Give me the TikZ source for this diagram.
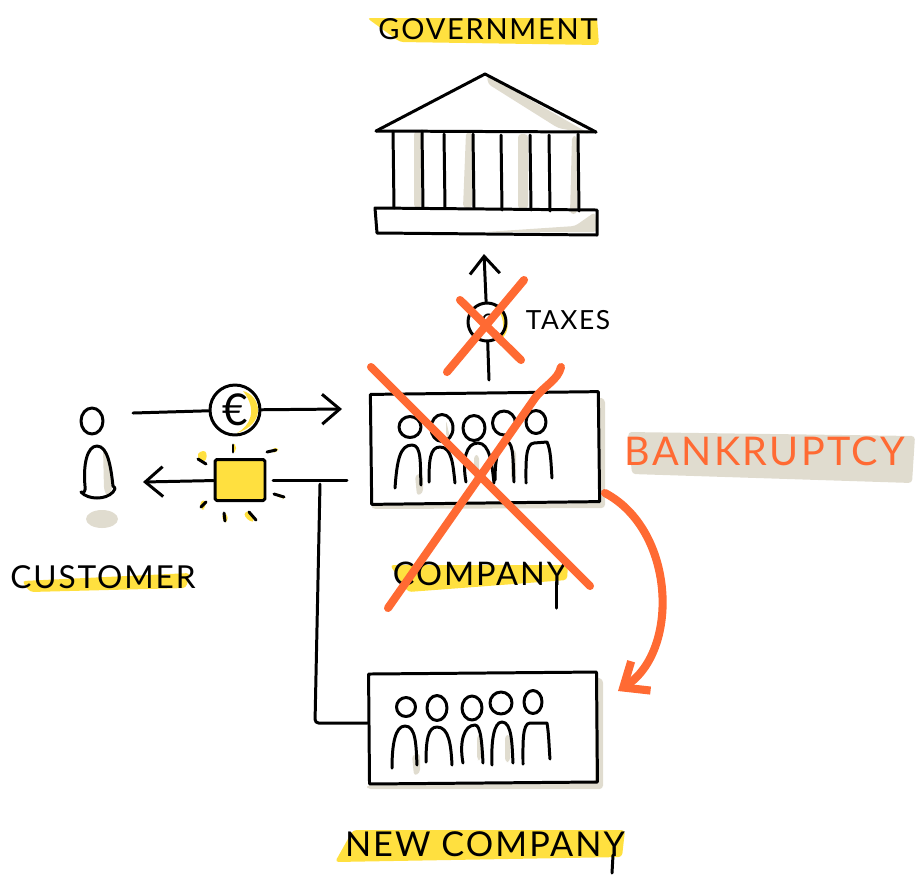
\documentclass[tikz,border=0pt]{standalone}
\usepackage{fontspec}
\usetikzlibrary{positioning, calc, arrows.meta, shapes.geometric}
\newfontfamily\sketchfont{Lato}[LetterSpace=6]
\definecolor{marker}{HTML}{FFE03F}
\definecolor{putty}{HTML}{E0DCCF}
\definecolor{redo}{HTML}{FF6A33}
\tikzset{
	ink/.style={line width=1.7pt, line cap=round, line join=round},
	redink/.style={draw=redo, line width=4.6pt, line cap=round, line join=round},
	band/.style={fill=marker, draw=none, rounded corners=2pt},
	blot/.style={fill=putty, draw=none, rounded corners=2pt},
	head/.style={draw, ink, ellipse, inner sep=0pt},
	crew/.style={draw, ink, minimum width=4.56cm, minimum height=2.2cm},
	barb/.style={-{Straight Barb[length=10pt, width=17pt, line width=1.7pt]}},
	coin/.style={draw, ink, circle, inner sep=0pt},
	hand/.style={font=\sketchfont\fontsize{#1}{#1}\selectfont, inner sep=0pt}
}
\begin{document}
\begin{tikzpicture}[x=0.02cm, y=-0.02cm]
	\useasboundingbox (0,0) rectangle (922,877);

	% marker bands and shadows first
	\fill[band] (367,18) -- (597,18) -- (599,45) -- (400,42) -- cycle;
	\fill[band] (22,581) -- (190,573) -- (186,588) -- (30,592) -- cycle;
	\fill[band] (390,565) -- (568,565) -- (567,580) -- (408,592) -- cycle;
	\fill[band] (353,830) -- (625,830) -- (622,857) -- (335,862) -- cycle;
	\fill[blot] (628,432) -- (915,436) -- (912,483) -- (632,474) -- cycle;

	\fill[blot] (487,75) -- (590,134) -- (558,128) -- (488,84) -- cycle;
	\fill[blot] (414,131) -- (421,131) -- (421,208) -- (414,208) -- cycle;
	\fill[blot] (466,132) -- (472,132) -- (472,208) -- (463,208) -- cycle;
	\fill[blot] (518,134) -- (528,134) -- (528,209) -- (518,209) -- cycle;
	\fill[blot] (572,136) -- (577,136) -- (577,214) -- (570,214) -- cycle;
	\fill[blot] (485,232) -- (575,226) -- (595,212) -- (597,232) -- cycle;

	\fill[blot] (598,397) -- (605,399) -- (605,508) -- (372,509) -- (372,505) -- (598,503) -- cycle;
	\fill[blot] (595,677) -- (603,679) -- (603,789) -- (367,789) -- (367,785) -- (595,783) -- cycle;
	\fill[blot] (415,475) -- (423,473) -- (423,493) -- (417,496) -- cycle;
	\fill[blot] (412,755) -- (420,753) -- (420,773) -- (414,776) -- cycle;
	\fill[blot] (446,420) -- (450,438) -- (446,437) -- cycle;
	\fill[blot] (511,450) -- (516,450) -- (516,480) -- (511,480) -- cycle;
	\fill[blot] (474,455) -- (479,455) -- (479,480) -- (474,480) -- cycle;
	\fill[blot] (477,735) -- (481,735) -- (481,760) -- (477,760) -- cycle;
	\fill[blot] (505,735) -- (510,735) -- (510,762) -- (505,762) -- cycle;

	\fill[putty] (102,519) ellipse (16 and 9);
	\fill[blot] (103,447) -- (108,455) -- (113,486) -- (108,498) -- (104,490) -- cycle;

	\fill[marker] (243,391) .. controls (262,396) and (266,424) .. (237,433) .. controls (250,426) and (258,410) .. cycle;
	\fill[marker] (493,305) .. controls (510,312) and (512,332) .. (500,340) .. controls (505,328) and (505,315) .. cycle;

	% yellow behind the rays
	\fill[band] (197,453) -- (206,450) -- (207,460) -- (200,463) -- cycle;
	\fill[band] (232,444) -- (236,444) -- (236,452) -- (232,452) -- cycle;
	\fill[band] (271,449) -- (278,447) -- (278,452) -- (271,453) -- cycle;
	\fill[band] (278,493) -- (285,497) -- (283,499) -- (276,496) -- cycle;
	\fill[band] (243,514) -- (249,510) -- (255,521) -- (250,522) -- cycle;
	\fill[band] (222,513) -- (227,513) -- (228,522) -- (223,522) -- cycle;
	\fill[band] (200,501) -- (206,500) -- (205,509) -- (201,510) -- cycle;

	% labels
	\node (government) at (488,29) [hand=16.5] {GOVERNMENT};
	\node (customer) at (103,577) [hand=18] {CUSTOMER};
	\node (companylabel) at (480,574) [hand=18.5] {COMPANY};
	\node (newcompanylabel) at (485,844) [hand=19.5] {NEW COMPANY};
	\node (taxes) at (568,320) [hand=15] {TAXES};
	\node (bankruptcy) at (765,451) [hand=22.5, text=redo] {BANKRUPTCY};
	\draw[ink] (556,582) -- (556,608);
	\draw[ink] (613,855) -- (612,873);

	% parliament
	\draw[ink] (376,131) -- (485,74) -- (596,132);
	\draw[ink] (376,131) -- (596,132);
	\draw[ink] (393,131) -- (394,208);
	\draw[ink] (422,131) -- (423,208);
	\draw[ink] (444,134) -- (445,208);
	\draw[ink] (473,134) -- (474,208);
	\draw[ink] (501,135) -- (502,210);
	\draw[ink] (530,135) -- (531,210);
	\draw[ink] (549,135) -- (550,211);
	\draw[ink] (578,134) -- (579,211);
	\draw[ink] (375,208) -- (597,210) -- (597,235) -- (377,233) -- cycle;

	% company boxes
	\node (company) at (485,448) [crew, rotate=0.7] {};
	\node (newcompany) at (483,728) [crew, rotate=0.5] {};

	% people in the company
	\node (c1) at (410,427) [head, minimum width=0.44cm, minimum height=0.42cm] {};
	\node (c2) at (442,428) [head, minimum width=0.44cm, minimum height=0.54cm] {};
	\node (c3) at (474,428) [head, minimum width=0.44cm, minimum height=0.5cm] {};
	\node (c4) at (504,423) [head, minimum width=0.46cm, minimum height=0.48cm] {};
	\node (c5) at (536,422) [head, minimum width=0.4cm, minimum height=0.46cm] {};
	\draw[ink] (395,488) .. controls (397,460) and (400,445) .. (412,445) .. controls (422,445) and (420,465) .. (421,485);
	\draw[ink] (429,482) .. controls (429,460) and (430,447) .. (440,447) .. controls (452,447) and (453,465) .. (455,483);
	\draw[ink] (466,482) .. controls (462,460) and (466,443) .. (478,443) .. controls (490,443) and (492,465) .. (494,483);
	\draw[ink] (495,480) .. controls (495,460) and (498,442) .. (507,442) .. controls (514,442) and (513,465) .. (514,482);
	\draw[ink] (526,483) .. controls (526,465) and (525,443) .. (534,443) -- (547,442) .. controls (551,450) and (551,465) .. (552,478);

	% people in the new company
	\node (n1) at (406,707) [head, minimum width=0.38cm, minimum height=0.38cm] {};
	\node (n2) at (437,708) [head, minimum width=0.4cm, minimum height=0.5cm] {};
	\node (n3) at (472,708) [head, minimum width=0.4cm, minimum height=0.48cm] {};
	\node (n4) at (501,703) [head, minimum width=0.44cm, minimum height=0.44cm] {};
	\node (n5) at (533,702) [head, minimum width=0.36cm, minimum height=0.46cm] {};
	\draw[ink] (392,768) .. controls (392,745) and (395,726) .. (405,726) .. controls (416,726) and (416,745) .. (417,765);
	\draw[ink] (426,762) .. controls (426,740) and (428,727) .. (437,727) .. controls (449,727) and (451,745) .. (452,765);
	\draw[ink] (463,763) .. controls (459,742) and (464,725) .. (475,725) .. controls (481,725) and (482,745) .. (483,763);
	\draw[ink] (492,765) .. controls (491,740) and (494,722) .. (502,722) .. controls (512,722) and (512,745) .. (513,763);
	\draw[ink] (523,764) .. controls (523,745) and (522,723) .. (530,723) -- (547,723) .. controls (549,735) and (549,748) .. (550,759);

	% customer
	\node (custhead) at (92,421) [head, minimum width=0.44cm, minimum height=0.52cm] {};
	\draw[ink] (81,492) .. controls (84,494) and (86,490) .. (85,486) .. controls (83,465) and (87,446) .. (97,446) .. controls (108,446) and (111,468) .. (113,486) .. controls (116,488) and (115,490) .. (113,492) .. controls (106,500) and (88,500) .. (81,492);

	% goods and money
	\node (eurocoin) at (235,410) [coin, minimum size=1cm, font=\sketchfont\fontsize{25}{25}\selectfont] {€};
	\node (goods) at (240,480) [draw, ink, fill=marker, minimum width=1cm, minimum height=0.82cm, rounded corners=1pt] {};
	\node (taxcoin) at (487,322) [coin, minimum size=0.76cm, font=\sketchfont\fontsize{13}{13}\selectfont] {€};

	\coordinate (payfrom) at (133,413);
	\coordinate (payto) at (342,409);
	\coordinate (sellto) at (143,482);
	\coordinate (sellout) at (273,480);
	\coordinate (sellfrom) at (347,480);
	\coordinate (branch) at (320,484);
	\coordinate (bend) at (315,723);
	\coordinate (taxfrom) at (489,380);
	\coordinate (taxto) at (484,254);
	\coordinate (redfrom) at (605,493);
	\coordinate (redto) at (618,691);

	\draw[ink] (payfrom) -- (eurocoin);
	\draw[ink, barb] (eurocoin) -- (payto);
	\draw[ink, barb] (goods) -- (sellto);
	\draw[ink] (sellout) -- (sellfrom);
	\draw[ink, rounded corners=2pt] (branch) -- (bend) -- (newcompany.west |- bend);
	\draw[ink] (taxfrom) -- (taxcoin);
	\draw[ink, barb] (taxcoin) -- (taxto);

	% rays
	\draw[ink] (233,445) -- (233,452);
	\draw[ink] (267,452) -- (276,450);
	\draw[ink] (274,494) -- (284,497);
	\draw[ink] (249,512) -- (256,520);
	\draw[ink] (224,513) -- (225,521);
	\draw[ink] (206,502) -- (201,507);
	\draw[ink] (198,459) -- (206,464);

	% bankruptcy
	\draw[redink, -{Straight Barb[length=12pt, width=20pt, line width=4.6pt]}] (redfrom) .. controls (675,530) and (680,650) .. (redto);
	\draw[redink] (524,280) -- (447,372);
	\draw[redink] (460,300) -- (521,360);
	\draw[redink] (371,367) -- (590,586);
	\draw[redink] (561,367) .. controls (558,380) and (545,385) .. (535,398) -- (388,608);
\end{tikzpicture}
\end{document}
